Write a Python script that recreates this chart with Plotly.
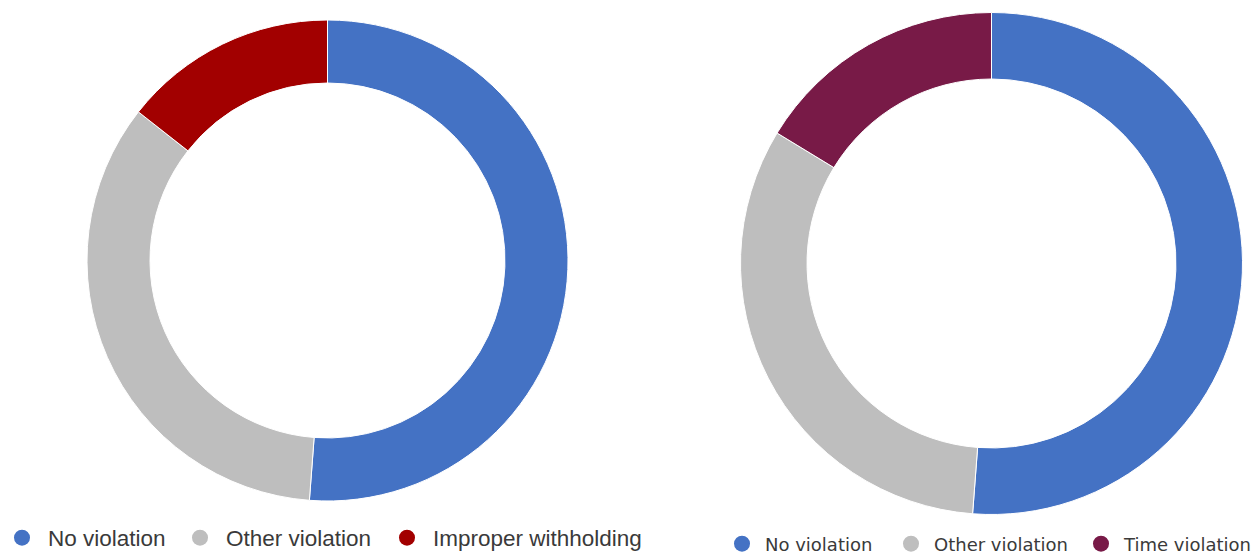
import plotly.graph_objects as go

W, H = 1253, 554

# ---- data ----
left_labels = ["No violation", "Other violation", "Improper withholding"]
left_values = [51.2, 34.4, 14.4]
left_colors = ["#4472C4", "#BEBEBE", "#A20000"]

right_labels = ["No violation", "Other violation", "Time violation"]
right_values = [51.2, 32.5, 16.3]
right_colors = ["#4472C4", "#BEBEBE", "#781A47"]


def domain(cx, cy, r):
    return dict(x=[(cx - r) / W, (cx + r) / W],
                y=[(H - cy - r) / H, (H - cy + r) / H])


fig = go.Figure()

fig.add_trace(go.Pie(
    labels=left_labels, values=left_values, hole=0.738, sort=False,
    direction="clockwise", rotation=0, textinfo="none", hoverinfo="label+percent",
    marker=dict(colors=left_colors, line=dict(color="white", width=1)),
    domain=domain(327.5, 260.5, 240.5), showlegend=False,
))
fig.add_trace(go.Pie(
    labels=right_labels, values=right_values, hole=0.735, sort=False,
    direction="clockwise", rotation=0, textinfo="none", hoverinfo="label+percent",
    marker=dict(colors=right_colors, line=dict(color="white", width=1)),
    domain=domain(991.5, 263.5, 251), showlegend=False,
))

# legend entries (dummy traces with circle markers), one legend per entry
left_centers = [22, 200, 407]
right_centers = [742, 911, 1101]
legend_layout = {}
idx = 1
for names, colors, centers, fsize, ly, fam, iw in [
    (left_labels, left_colors, left_centers, 22.5, 538, "Liberation Sans", 42),
    (right_labels, right_colors, right_centers, 18, 544, "DejaVu Sans", 36),
]:
    half = (iw + 10) / 2
    for name, col, cx in zip(names, colors, centers):
        key = "legend" if idx == 1 else f"legend{idx}"
        fig.add_trace(go.Scatter(
            x=[None], y=[None], mode="markers", name=name,
            marker=dict(color=col, size=16, symbol="circle"),
            legend=key, showlegend=True, hoverinfo="skip",
        ))
        legend_layout[key] = dict(
            x=(cx - half) / W, xanchor="left", y=(H - ly) / H, yanchor="middle",
            bgcolor="rgba(0,0,0,0)", borderwidth=0, itemwidth=iw,
            font=dict(family=fam, size=fsize, color="#3A3A3A"),
            orientation="h",
        )
        idx += 1

fig.update_layout(
    width=W, height=H, margin=dict(l=0, r=0, t=0, b=0, autoexpand=False),
    paper_bgcolor="white", plot_bgcolor="white",
    xaxis=dict(visible=False), yaxis=dict(visible=False),
    **legend_layout,
)

fig.write_html("out.html")
